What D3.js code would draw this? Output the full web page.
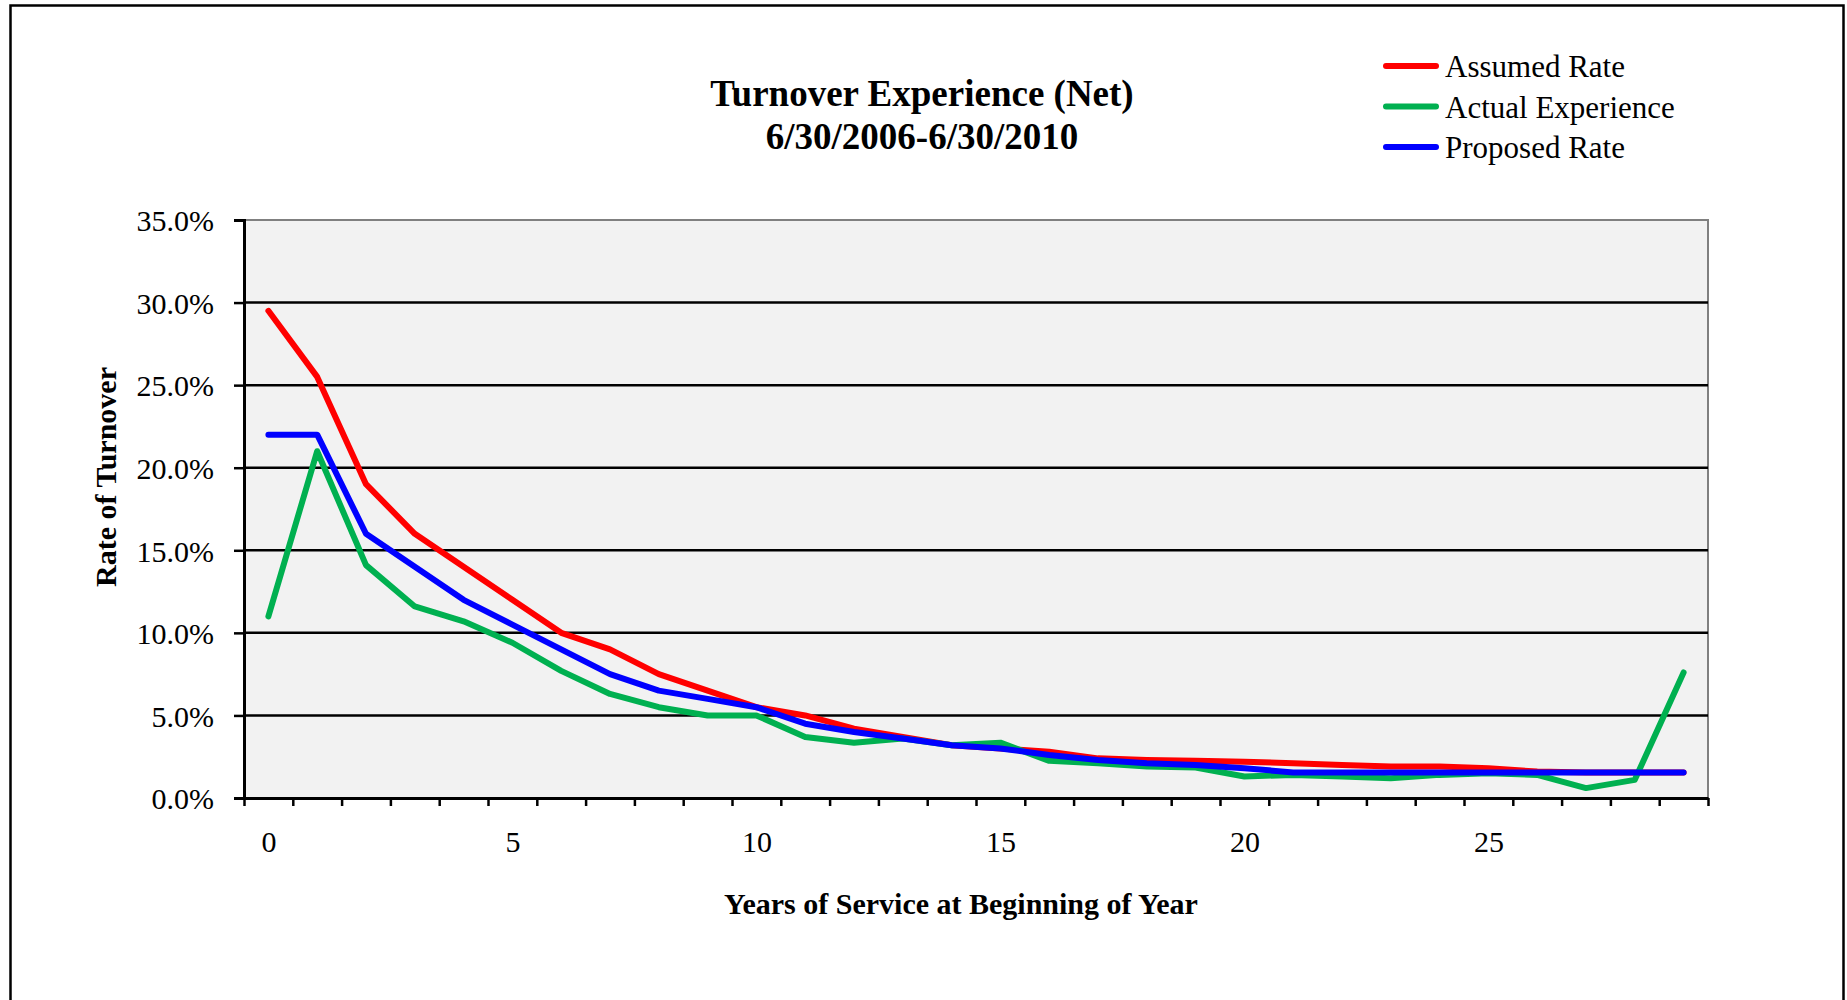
<!DOCTYPE html>
<html>
<head>
<meta charset="utf-8">
<title>Turnover Experience (Net)</title>
<script src="https://cdn.jsdelivr.net/npm/d3@7"></script>
<style>
  html, body { margin: 0; padding: 0; background: #fff; }
  svg { display: block; }
  text { font-family: "Liberation Serif", "Times New Roman", serif; fill: #000; }
</style>
</head>
<body>
<svg id="chart" width="1847" height="1000"></svg>
<script>
// Years of service at beginning of year (categories)
const years = d3.range(0, 30);

// Turnover rates, in percent
const assumedRate = [29.5, 25.5, 19.0, 16.0, 14.0, 12.0, 10.0, 9.0, 7.5, 6.5,
                     5.5, 5.0, 4.2, 3.7, 3.2, 3.0, 2.8, 2.4, 2.3, 2.25,
                     2.2, 2.1, 2.0, 1.9, 1.9, 1.8, 1.6, 1.55, 1.55, 1.55];
const actualExperience = [11.0, 21.0, 14.1, 11.6, 10.7, 9.4, 7.7, 6.3, 5.5, 5.0,
                          5.0, 3.7, 3.35, 3.6, 3.2, 3.35, 2.25, 2.1, 1.9, 1.85,
                          1.3, 1.4, 1.3, 1.2, 1.4, 1.5, 1.4, 0.6, 1.1, 7.6];
const proposedRate = [22.0, 22.0, 16.0, 14.0, 12.0, 10.5, 9.0, 7.5, 6.5, 6.0,
                      5.5, 4.5, 4.0, 3.6, 3.2, 3.0, 2.6, 2.3, 2.1, 2.0,
                      1.8, 1.55, 1.55, 1.55, 1.55, 1.55, 1.55, 1.55, 1.55, 1.55];

const seriesNames = ["Assumed Rate", "Actual Experience", "Proposed Rate"];
const seriesColors = ["#ff0000", "#00b050", "#0000ff"];
const seriesValues = [assumedRate, actualExperience, proposedRate];

const yTicks = [0, 5, 10, 15, 20, 25, 30, 35];
const xLabelTicks = [0, 5, 10, 15, 20, 25];

const titleLines = ["Turnover Experience (Net)", "6/30/2006-6/30/2010"];
const xTitle = "Years of Service at Beginning of Year";
const yTitle = "Rate of Turnover";

const svg = d3.select("#chart");

// outer frame
svg.append("rect")
  .attr("x", 10.5).attr("y", 5.5)
  .attr("width", 1833).attr("height", 1010)
  .attr("fill", "none").attr("stroke", "#000").attr("stroke-width", 2.5);

const plot = { left: 244, right: 1708, top: 220, bottom: 798 };

const x = d3.scaleLinear().domain([-0.5, 29.5]).range([plot.left, plot.right]);
const y = d3.scaleLinear().domain([0, 35]).range([plot.bottom, plot.top]);

// plot area background
svg.append("rect")
  .attr("x", plot.left).attr("y", plot.top)
  .attr("width", plot.right - plot.left).attr("height", plot.bottom - plot.top)
  .attr("fill", "#f2f2f2");

// gray top and right border of the plot area
svg.append("path")
  .attr("d", `M${plot.left},${plot.top}H${plot.right}V${plot.bottom}`)
  .attr("fill", "none").attr("stroke", "#808080").attr("stroke-width", 2);

// horizontal gridlines
svg.append("g")
  .selectAll("line")
  .data(yTicks.filter(v => v > 0 && v < 35))
  .join("line")
  .attr("x1", plot.left).attr("x2", plot.right)
  .attr("y1", d => y(d)).attr("y2", d => y(d))
  .attr("stroke", "#000").attr("stroke-width", 2.5);

// y axis
const yAxis = svg.append("g")
  .attr("transform", `translate(${plot.left},0)`)
  .call(d3.axisLeft(y).tickValues(yTicks).tickSize(10).tickPadding(20)
    .tickFormat(d => d.toFixed(1) + "%"));
yAxis.select(".domain").attr("stroke", "#000").attr("stroke-width", 3);
yAxis.selectAll(".tick line").attr("stroke", "#000").attr("stroke-width", 2.5);
yAxis.selectAll("text").attr("font-size", 30).attr("dy", "0.36em")
  .style("font-family", "'Liberation Serif', serif");

// x axis: ticks between categories
const xAxis = svg.append("g")
  .attr("transform", `translate(0,${plot.bottom})`)
  .call(d3.axisBottom(x).tickValues(d3.range(-0.5, 30, 1)).tickSize(8).tickSizeOuter(0).tickFormat(""));
xAxis.select(".domain").attr("stroke", "#000").attr("stroke-width", 3);
xAxis.selectAll(".tick line").attr("stroke", "#000").attr("stroke-width", 2.5);

// x axis labels
const xLabels = svg.append("g")
  .attr("transform", `translate(0,${plot.bottom})`)
  .call(d3.axisBottom(x).tickValues(xLabelTicks).tickSize(0).tickPadding(33).tickFormat(d3.format("d")));
xLabels.select(".domain").remove();
xLabels.selectAll("text").attr("font-size", 30)
  .style("font-family", "'Liberation Serif', serif");

// series lines
const line = d3.line()
  .x((d, i) => x(years[i]))
  .y(d => y(d));

svg.append("g")
  .selectAll("path")
  .data(seriesValues)
  .join("path")
  .attr("d", d => line(d))
  .attr("fill", "none")
  .attr("stroke", (d, i) => seriesColors[i])
  .attr("stroke-width", 6)
  .attr("stroke-linecap", "round")
  .attr("stroke-linejoin", "round");

// title
svg.append("text")
  .attr("text-anchor", "middle")
  .attr("font-weight", "bold")
  .attr("font-size", 37)
  .selectAll("tspan")
  .data(titleLines)
  .join("tspan")
  .attr("x", 922)
  .attr("y", (d, i) => 106 + i * 43)
  .text(d => d);

// axis titles
svg.append("text")
  .attr("x", 961).attr("y", 914)
  .attr("text-anchor", "middle")
  .attr("font-weight", "bold")
  .attr("font-size", 30)
  .text(xTitle);

svg.append("text")
  .attr("transform", "translate(116,477) rotate(-90)")
  .attr("text-anchor", "middle")
  .attr("font-weight", "bold")
  .attr("font-size", 30)
  .text(yTitle);

// legend
const legend = svg.append("g")
  .selectAll("g")
  .data(seriesNames)
  .join("g")
  .attr("transform", (d, i) => `translate(0,${66 + i * 40.5})`);

legend.append("line")
  .attr("x1", 1386).attr("x2", 1436)
  .attr("y1", 0).attr("y2", 0)
  .attr("stroke", (d, i) => seriesColors[i])
  .attr("stroke-width", 6)
  .attr("stroke-linecap", "round");

legend.append("text")
  .attr("x", 1445).attr("y", 11)
  .attr("font-size", 31)
  .text(d => d);
</script>
</body>
</html>
